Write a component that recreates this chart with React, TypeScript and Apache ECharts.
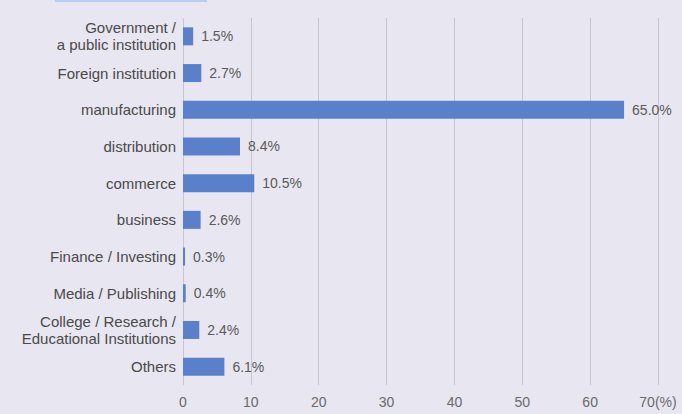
import React, { useEffect, useRef } from "react";
import * as echarts from "echarts";

const categories = [
  "Government /\na public institution",
  "Foreign institution",
  "manufacturing",
  "distribution",
  "commerce",
  "business",
  "Finance / Investing",
  "Media / Publishing",
  "College / Research /\nEducational Institutions",
  "Others",
];
const values = [1.5, 2.7, 65.0, 8.4, 10.5, 2.6, 0.3, 0.4, 2.4, 6.1];
const valueLabels = ["1.5%", "2.7%", "65.0%", "8.4%", "10.5%", "2.6%", "0.3%", "0.4%", "2.4%", "6.1%"];

const FONT = "'Liberation Sans', Arial, sans-serif";

export default function App() {
  const ref = useRef<HTMLDivElement>(null);
  useEffect(() => {
    if (!ref.current) return;
    const chart = echarts.init(ref.current, null, { renderer: "svg" });
    chart.setOption({
      animation: false,
      backgroundColor: "#e8e6f1",
      graphic: [
        { type: "rect", shape: { x: 55, y: 0, width: 152, height: 2 }, style: { fill: "#b9cdf0" } },
      ],
      grid: { left: 183, right: 24, top: 18, bottom: 29, containLabel: false },
      xAxis: {
        type: "value",
        min: 0,
        max: 70,
        interval: 10,
        axisLine: { show: false },
        axisTick: { show: false },
        splitLine: { show: true, lineStyle: { color: "#c6c5d0", width: 1 } },
        axisLabel: {
          color: "#6a6a6a",
          fontFamily: FONT,
          fontSize: 14,
          margin: 10,
          formatter: (v: number) => (v === 70 ? "70(%)" : String(v)),
        },
      },
      yAxis: {
        type: "category",
        inverse: true,
        data: categories,
        axisLine: { show: false },
        axisTick: { show: false },
        axisLabel: {
          color: "#4a4a4a",
          fontFamily: FONT,
          fontSize: 15,
          lineHeight: 17,
          margin: 7,
        },
      },
      series: [
        {
          type: "bar",
          data: values,
          barWidth: 18,
          itemStyle: { color: "#5b80cb" },
          label: {
            show: true,
            position: "right",
            distance: 8,
            color: "#5a5a5a",
            fontFamily: FONT,
            fontSize: 14,
            formatter: (p: any) => valueLabels[p.dataIndex],
          },
        },
      ],
    });
    return () => chart.dispose();
  }, []);
  return (
    <div
      ref={ref}
      style={{ position: "fixed", left: 0, top: 0, width: 682, height: 414 }}
    />
  );
}
